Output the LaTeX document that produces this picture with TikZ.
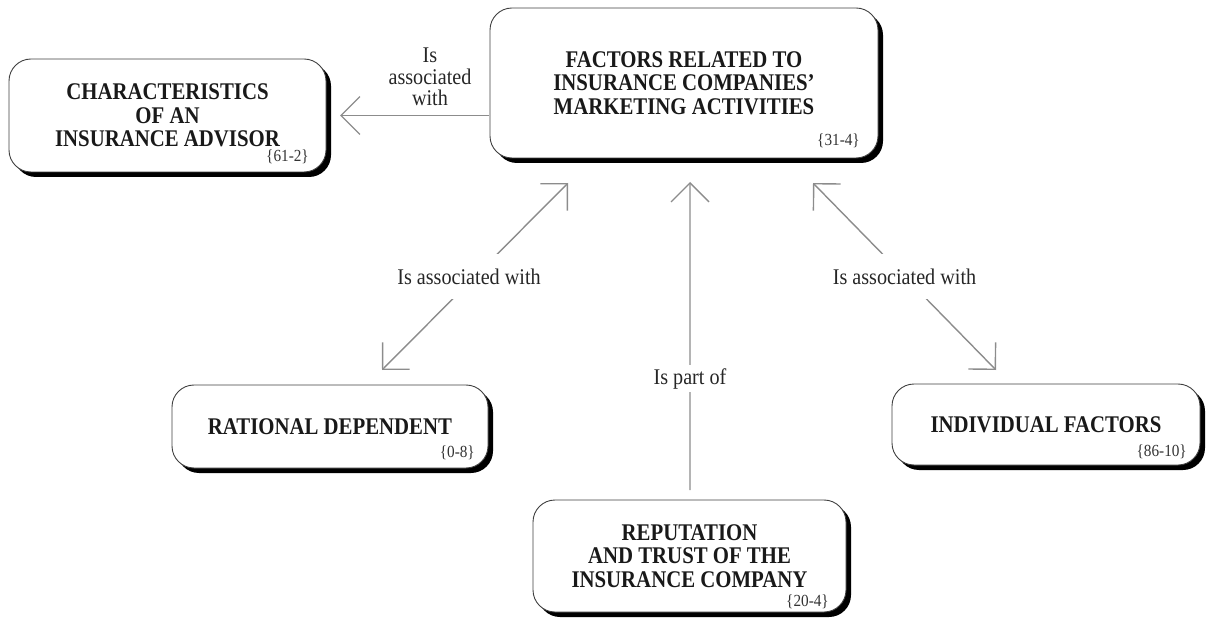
\documentclass[tikz,border=0pt]{standalone}
\usepackage{fontspec}
\setmainfont{Liberation Serif}[FakeStretch=0.87]
\newfontfamily\labfam{Liberation Serif}[FakeStretch=0.9]
\usetikzlibrary{arrows.meta,shadows}
\newcommand\boxfont{\fontsize{24}{23.5}\selectfont\bfseries}
\newcommand\labfont{\labfam\fontsize{22.5}{21.5}\selectfont}
\newcommand\numfont{\labfam\fontsize{17}{17}\selectfont}
\begin{document}
\begin{tikzpicture}[x=1bp,y=-1bp,
  box/.style={draw=black!75, line width=0.9bp, fill=white, rounded corners=22bp,
    inner sep=0pt, outer sep=0pt, align=center, font=\boxfont, text=black!90,
    drop shadow={shadow xshift=5bp, shadow yshift=-5bp, fill=black, opacity=1}},
  code/.style={anchor=base east, font=\numfont, inner sep=0pt, text=black!80},
  lab/.style={font=\labfont, align=center, text=black!85, inner sep=0pt},
  cut/.style={lab, fill=white, inner xsep=4bp},
  tip/.tip={Straight Barb[length=19bp,width=38bp]},
  link/.style={draw=black!45, line width=1.4bp, -tip},
  both/.style={draw=black!45, line width=1.4bp, tip-tip}]
\useasboundingbox (0,0) rectangle (1208,619);

% concept boxes
\node[box, minimum width=317bp, minimum height=113bp] (char) at (167.5,115.5)
  {CHARACTERISTICS\\OF AN\\INSURANCE ADVISOR};
\node[box, minimum width=388bp, minimum height=150bp] (fac) at (684,83)
  {FACTORS RELATED TO\\INSURANCE COMPANIES'\\MARKETING ACTIVITIES};
\node[box, minimum width=316bp, minimum height=83bp] (rat) at (330,426.5)
  {RATIONAL DEPENDENT};
\node[box, minimum width=308bp, minimum height=81bp] (ind) at (1046,424.5)
  {INDIVIDUAL FACTORS};
\node[box, minimum width=313bp, minimum height=112bp] (rep) at (689.5,556)
  {REPUTATION\\AND TRUST OF THE\\INSURANCE COMPANY};

% reference codes in the lower right corners
\node[code] (charn) at ([shift={(-17,-10)}]char.south east) {\{61-2\}};
\node[code] (facn)  at ([shift={(-18,-12)}]fac.south east)  {\{31-4\}};
\node[code] (ratn)  at ([shift={(-13,-11)}]rat.south east)  {\{0-8\}};
\node[code] (indn)  at ([shift={(-13,-9)}]ind.south east)   {\{86-10\}};
\node[code] (repn)  at ([shift={(-17,-6)}]rep.south east)   {\{20-4\}};

% relations
\node[lab] (l0) at (430,77) {Is\\associated\\with};
\draw[link, shorten >=14bp, shorten <=1bp] (fac.west |- char.east) -- (char.east);

\draw[both] ([shift={(78,25)}]fac.south west) --
  node[cut, inner ysep=15bp, xshift=-6bp] (l1) {Is associated with}
  ([shift={(52,-15)}]rat.north);

\draw[both] ([shift={(-65,25)}]fac.south east) --
  node[cut, inner ysep=15bp] (l2) {Is associated with}
  ([shift={(-50,-14)}]ind.north);

\draw[link] ([shift={(0.5,-10)}]rep.north) --
  node[cut, pos=0.362, inner ysep=3.5bp] (l3) {Is part of}
  ([shift={(6,24)}]fac.south);
\end{tikzpicture}
\end{document}
